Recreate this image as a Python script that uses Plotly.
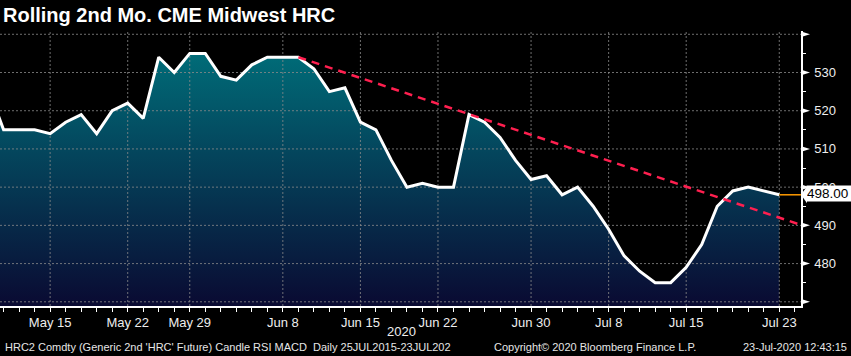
import plotly.graph_objects as go

# ---------------- data ----------------
dates = [
    "2020-05-11", "2020-05-12", "2020-05-13", "2020-05-14", "2020-05-15",
    "2020-05-18", "2020-05-19", "2020-05-20", "2020-05-21", "2020-05-22",
    "2020-05-26", "2020-05-27", "2020-05-28", "2020-05-29",
    "2020-06-01", "2020-06-02", "2020-06-03", "2020-06-04", "2020-06-05",
    "2020-06-08", "2020-06-09", "2020-06-10", "2020-06-11", "2020-06-12",
    "2020-06-15", "2020-06-16", "2020-06-17", "2020-06-18", "2020-06-19",
    "2020-06-22", "2020-06-23", "2020-06-24", "2020-06-25", "2020-06-26",
    "2020-06-29", "2020-06-30", "2020-07-01", "2020-07-02",
    "2020-07-06", "2020-07-07", "2020-07-08", "2020-07-09", "2020-07-10",
    "2020-07-13", "2020-07-14", "2020-07-15", "2020-07-16", "2020-07-17",
    "2020-07-20", "2020-07-21", "2020-07-22", "2020-07-23",
]
prices = [
    526, 515, 515, 515, 514,
    517, 519, 514, 520, 522,
    518, 534, 530, 535,
    535, 529, 528, 532, 534,
    534, 534, 531, 525, 526,
    517, 515, 507, 500, 501,
    500, 500, 519, 517, 513,
    507, 502, 503, 498,
    500, 495, 489, 482, 478,
    475, 475, 479, 485, 495,
    499, 500, 499, 498,
]
tick_dates = ["2020-05-15", "2020-05-22", "2020-05-29", "2020-06-08", "2020-06-15",
              "2020-06-22", "2020-06-30", "2020-07-08", "2020-07-15", "2020-07-23"]
tick_labels = ["May 15", "May 22", "May 29", "Jun 8", "Jun 15",
               "Jun 22", "Jun 30", "Jul 8", "Jul 15", "Jul 23"]
y_label_ticks = [480, 490, 500, 510, 520, 530]
y_grid_values = [470, 480, 490, 500, 510, 520, 530, 540]
y_minor_ticks = [475, 485, 495, 505, 515, 525, 535]
trend_dates = ["2020-06-09", "2020-06-24"]
trend_values = [534.0, 519.1]
last_price = 498.00

title_text = "Rolling 2nd Mo. CME Midwest HRC"
footer_left = "HRC2 Comdty (Generic 2nd 'HRC' Future) Candle RSI MACD\u00a0 Daily 25JUL2015-23JUL202"
footer_mid = "Copyright\u00a9 2020 Bloomberg Finance L.P."
footer_right = "23-Jul-2020 12:43:15"
year_label = "2020"

# ---------------- layout constants ----------------
W, H = 851, 356
ML, MR, MT, MB = 0, 50, 31, 50
PW, PH = W - ML - MR, H - MT - MB
X_MIN, X_MAX = 0.768, 52.4
Y_MIN, Y_MAX = 468.9, 540.86
FONT = "Liberation Sans, Arial, sans-serif"
GRID = "#8a8a8a"

pos = {d: i for i, d in enumerate(dates)}
xi = [pos[d] for d in dates]
tick_x = [pos[d] for d in tick_dates]


def ypaper(v):
    return (v - Y_MIN) / (Y_MAX - Y_MIN)


fig = go.Figure()

# gradient area
fig.add_trace(go.Scatter(
    x=xi, y=prices, mode="none", fill="tozeroy",
    fillgradient=dict(type="vertical",
                      colorscale=[[0, "rgb(10,10,50)"], [1, "rgb(0,108,120)"]],
                      start=Y_MIN, stop=535),
    hoverinfo="skip", showlegend=False))

# grid lines (drawn above the area, below the price line)
for t in tick_x:
    fig.add_trace(go.Scatter(x=[t, t], y=[Y_MIN, Y_MAX], mode="lines",
                             line=dict(color=GRID, width=1, dash="2px,2px"),
                             opacity=0.8, hoverinfo="skip", showlegend=False))
for v in y_grid_values:
    fig.add_trace(go.Scatter(x=[X_MIN, X_MAX], y=[v, v], mode="lines",
                             line=dict(color=GRID, width=1, dash="2px,2px"),
                             opacity=0.8, hoverinfo="skip", showlegend=False))

# price line
fig.add_trace(go.Scatter(x=xi, y=prices, mode="lines",
                         line=dict(color="white", width=3),
                         hoverinfo="skip", showlegend=False))

# trend line
t0, t1 = pos[trend_dates[0]], pos[trend_dates[1]]
slope = (trend_values[1] - trend_values[0]) / (t1 - t0)
fig.add_trace(go.Scatter(
    x=[t0, X_MAX], y=[trend_values[0], trend_values[0] + slope * (X_MAX - t0)],
    mode="lines", line=dict(color="#ff1f4f", width=2.5, dash="8px,6px"),
    hoverinfo="skip", showlegend=False))

# last price line
fig.add_trace(go.Scatter(x=[xi[-1], X_MAX], y=[last_price, last_price], mode="lines",
                         line=dict(color="#ff9a00", width=1.5),
                         hoverinfo="skip", showlegend=False))

shapes = []
for v in y_grid_values:
    shapes.append(dict(type="path", xref="paper", yref="paper",
                       xsizemode="pixel", ysizemode="pixel",
                       xanchor=1, yanchor=ypaper(v),
                       path="M1,2.5 L9,0 L1,-2.5 Z",
                       fillcolor="white", line=dict(width=0)))
# last price tag arrow
shapes.append(dict(type="path", xref="paper", yref="paper",
                   xsizemode="pixel", ysizemode="pixel",
                   xanchor=1, yanchor=ypaper(last_price),
                   path="M0,0 L6,8.5 L6,-8.5 Z",
                   fillcolor="white", line=dict(width=0)))

annotations = [
    dict(text="<b>" + title_text + "</b>", xref="paper", yref="paper",
         x=0, y=1 + (MT - 15) / PH, xanchor="left", yanchor="middle",
         xshift=1, showarrow=False, font=dict(family=FONT, size=20, color="white")),
    dict(text=f"{last_price:.2f}", xref="paper", yref="paper",
         x=1, y=ypaper(last_price), xanchor="left", yanchor="middle", xshift=5, yshift=1,
         showarrow=False, bgcolor="white", borderpad=0, width=46, align="left",
         font=dict(family=FONT, size=13.5, color="black")),
    dict(text=year_label, xref="paper", yref="paper",
         x=401 / PW, y=-(331 - (H - MB)) / PH,
         xanchor="center", yanchor="middle", showarrow=False,
         font=dict(family=FONT, size=13, color="#eeeeee")),
    dict(text=footer_left, xref="paper", yref="paper",
         x=2.5 / PW, y=-(347 - (H - MB)) / PH,
         xanchor="left", yanchor="middle", showarrow=False,
         font=dict(family=FONT, size=11, color="#e6e6e6")),
    dict(text=footer_mid, xref="paper", yref="paper",
         x=491.5 / PW, y=-(347 - (H - MB)) / PH,
         xanchor="left", yanchor="middle", showarrow=False,
         font=dict(family=FONT, size=11, color="#e6e6e6")),
    dict(text=footer_right, xref="paper", yref="paper",
         x=849 / PW, y=-(347 - (H - MB)) / PH,
         xanchor="right", yanchor="middle", showarrow=False,
         font=dict(family=FONT, size=11, color="#e6e6e6")),
]

fig.update_layout(
    width=W, height=H,
    margin=dict(l=ML, r=MR, t=MT, b=MB, pad=0, autoexpand=False),
    paper_bgcolor="black", plot_bgcolor="black",
    showlegend=False,
    font=dict(family=FONT, color="#eeeeee"),
    shapes=shapes, annotations=annotations,
    xaxis=dict(range=[X_MIN, X_MAX], showgrid=False, zeroline=False,
               tickmode="array", tickvals=tick_x, ticktext=tick_labels,
               ticks="outside", ticklen=4, tickwidth=1, tickcolor="white",
               minor=dict(ticks="outside", tickvals=xi + [len(dates)],
                          ticklen=4, tickwidth=1, tickcolor="white"),
               showline=True, linecolor="white", linewidth=1.5,
               tickfont=dict(family=FONT, size=13, color="#eeeeee"),
               automargin=False, fixedrange=True),
    yaxis=dict(range=[Y_MIN, Y_MAX], side="right", showgrid=False, zeroline=False,
               tickmode="array", tickvals=y_label_ticks,
               ticks="", ticklabelstandoff=9,
               minor=dict(ticks="outside", tickvals=y_minor_ticks,
                          ticklen=3, tickwidth=1, tickcolor="white"),
               showline=True, linecolor="white", linewidth=1.5,
               tickfont=dict(family=FONT, size=13, color="#eeeeee"),
               automargin=False, fixedrange=True),
)

fig.write_html("out.html", config={"displayModeBar": False},
               post_script="document.body.style.margin='0px';")
